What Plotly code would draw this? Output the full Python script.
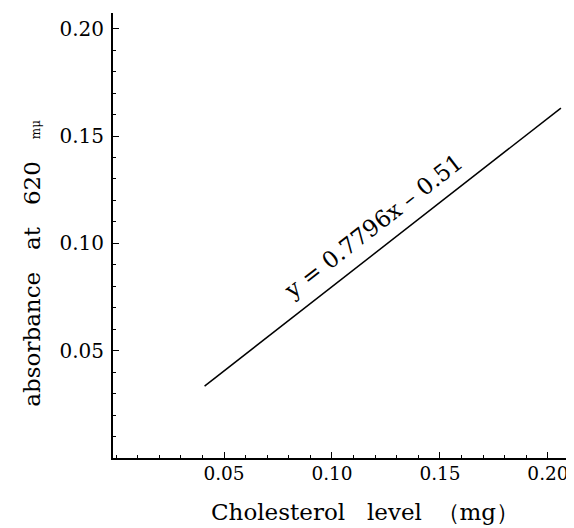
import plotly.graph_objects as go

# Data
line_x = [0.041, 0.206]
line_y = [0.0335, 0.163]
x_ticks = [0.05, 0.10, 0.15, 0.20]
x_tick_labels = ["0.05", "0.10", "0.15", "0.20"]
y_ticks = [0.05, 0.10, 0.15, 0.20]
y_tick_labels = ["0.05", "0.10", "0.15", "0.20"]
NB = "\u00a0"
equation_text = "y" + NB + "=" + NB + "0.7796x" + NB + "\u2013" + NB + "0.51"
x_title = "Cholesterol" + NB * 3 + "level" + NB * 2 + "（mg）"
y_title = ("absorbance" + NB * 3 + "at" + NB * 3 + "620" + NB * 3
           + "<span style='font-size:12px'>mμ</span>")

FONT = "DejaVu Serif"

fig = go.Figure()
fig.add_trace(go.Scatter(x=line_x, y=line_y, mode="lines",
                         line=dict(color="black", width=1.5),
                         showlegend=False, hoverinfo="skip"))

fig.add_annotation(x=0.1193, y=0.108, xref="x", yref="y",
                   text=equation_text, showarrow=False, textangle=-37.8,
                   font=dict(family=FONT, size=23, color="black"))

fig.add_annotation(x=0.548, y=-0.121, xref="paper", yref="paper",
                   xanchor="center", yanchor="middle",
                   text=x_title, showarrow=False,
                   font=dict(family=FONT, size=23, color="black"))
fig.add_annotation(x=-0.178, y=0.437, xref="paper", yref="paper",
                   xanchor="center", yanchor="middle", textangle=-90,
                   text=y_title, showarrow=False,
                   font=dict(family=FONT, size=23, color="black"))

fig.update_layout(
    width=566, height=520,
    margin=dict(l=105, r=1, t=5, b=70, autoexpand=False),
    paper_bgcolor="white", plot_bgcolor="white",
    font=dict(family=FONT, size=20, color="black"),
    showlegend=False,
)

fig.update_xaxes(range=[-0.0014, 0.2116], showgrid=False, zeroline=False,
                 showline=True, linecolor="black", linewidth=2,
                 ticks="inside", ticklen=6, tickwidth=1.2, tickcolor="black",
                 tickvals=x_ticks, ticktext=x_tick_labels, automargin=False,
                 tickfont=dict(size=18.5),
                 ticklabeloverflow="allow", ticklabelstandoff=-2,
                 minor=dict(ticks="inside", ticklen=3, dtick=0.01, tickcolor="black", tickwidth=1))
fig.update_yaxes(range=[0, 0.2073], showgrid=False, zeroline=False,
                 showline=True, linecolor="black", linewidth=2,
                 ticks="inside", ticklen=6, tickwidth=1.2, tickcolor="black",
                 tickvals=y_ticks, ticktext=y_tick_labels, automargin=False,
                 ticklabeloverflow="allow", ticklabelstandoff=3,
                 minor=dict(ticks="inside", ticklen=3, dtick=0.01, tickcolor="black", tickwidth=1))

fig.write_html("out.html")
